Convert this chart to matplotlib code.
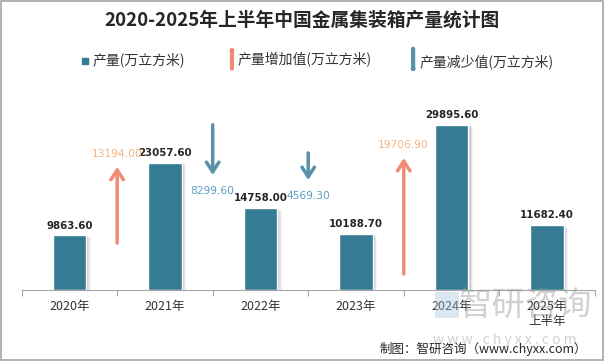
import matplotlib.pyplot as plt
from matplotlib.patches import Rectangle, FancyArrowPatch

plt.rcParams['font.family'] = ['Noto Sans CJK SC', 'DejaVu Sans']

years = ["2020年", "2021年", "2022年", "2023年", "2024年", "2025年\n上半年"]
output = [9863.60, 23057.60, 14758.00, 10188.70, 29895.60, 11682.40]

# change arrows between neighbouring years
changes = [13194.00, -8299.60, -4569.30, 19706.90]
change_pos = [0.5, 1.5, 2.5, 3.5]
arrow_tail = [8500, 29900, 24800, 2900]
arrow_tip = [22300, 20800, 19900, 23900]

bar_color = "#357b94"
up_color = "#f08c76"
up_text = "#f5b27f"
down_color = "#5a90a8"
down_text = "#5a9ec0"

fig = plt.figure(figsize=(6.04, 3.61), dpi=100)
fig.patch.set_facecolor("white")
fig.add_artist(Rectangle((0.001, 0.002), 0.997, 0.995, transform=fig.transFigure,
                         fill=False, edgecolor="#a6a6a6", lw=1.2))

ax = fig.add_axes([0.0358, 0.1967, 0.949, 0.551])
x = list(range(len(years)))
# soft shadow on the right side of each bar
for k, a in enumerate([0.35, 0.25, 0.16, 0.08]):
    off = 0.012 * (k + 1)
    ax.bar([i + off for i in x], [v - 150 * k for v in output], width=0.35,
           color="#8c8c8c", alpha=a, lw=0, zorder=1)
ax.bar(x, output, width=0.35, color=bar_color, edgecolor="white", lw=1, zorder=2)
for i, v in enumerate(output):
    ax.text(i, v + 900, f"{v:.2f}", ha="center", va="bottom", fontsize=7.4,
            fontweight="bold", color="#262626", family="DejaVu Sans")

for pos, ch, t0, t1 in zip(change_pos, changes, arrow_tail, arrow_tip):
    col = up_color if ch > 0 else down_color
    ax.annotate("", xy=(pos, t1), xytext=(pos, t0),
                arrowprops=dict(arrowstyle="->,head_length=0.7,head_width=0.45",
                                color=col, lw=2.5, shrinkA=0, shrinkB=0))
    if ch > 0:
        ax.text(pos, t1 + 1400, f"{abs(ch):.2f}", ha="center", va="bottom",
                fontsize=7.7, color=up_text, family="DejaVu Sans")
    else:
        ax.text(pos, t1 - 1900, f"{abs(ch):.2f}", ha="center", va="top",
                fontsize=7.7, color=down_text, family="DejaVu Sans")

ax.set_xlim(-0.5, 5.5)
ax.set_ylim(0, 36000)
ax.set_yticks([])
ax.set_xticks([i - 0.5 for i in range(len(years) + 1)])
ax.set_xticklabels([])
ax.set_xticks(x, minor=True)
ax.set_xticklabels(years, minor=True, fontsize=9, color="#333333", va="top")
ax.tick_params(axis="x", which="major", length=4, color="#a6a6a6", direction="out")
ax.tick_params(axis="x", which="minor", length=0, pad=7)
for s in ["top", "left", "right"]:
    ax.spines[s].set_visible(False)
ax.spines["bottom"].set_color("#a6a6a6")

fig.text(0.5, 0.943, "2020-2025年上半年中国金属集装箱产量统计图", ha="center", va="center",
         fontsize=13.5, fontweight="bold", color="#262626")

# legend
ly = 0.834
fig.add_artist(Rectangle((0.136, ly - 0.012), 0.01, 0.018, transform=fig.transFigure,
                         color=bar_color))
fig.text(0.154, ly, "产量(万立方米)", va="center", fontsize=10, color="#333333")
fig.add_artist(FancyArrowPatch(
    (0.384, 0.81), (0.384, 0.87), transform=fig.transFigure,
    arrowstyle="-|>,head_length=0.35,head_width=0.3", color=up_color, lw=3,
    shrinkA=0, shrinkB=0))
fig.text(0.394, ly, "产量增加值(万立方米)", va="center", fontsize=10, color="#333333")
fig.add_artist(FancyArrowPatch(
    (0.684, 0.865), (0.684, 0.80), transform=fig.transFigure,
    arrowstyle="-|>,head_length=0.35,head_width=0.3", color=down_color, lw=3,
    shrinkA=0, shrinkB=0))
fig.text(0.695, ly - 0.006, "产量减少值(万立方米)", va="center", fontsize=10, color="#333333")

# watermark
fig.text(0.87, 0.155, "智研咨询", ha="center", va="center", fontsize=24,
         color="#9a9a9a", alpha=0.45)
fig.add_artist(Rectangle((0.72, 0.12), 0.04, 0.07, transform=fig.transFigure,
                         color="#a9c6dc", alpha=0.4, lw=0))
fig.text(0.835, 0.058, "w w w . c h y x x . c o m", ha="center", va="center",
         fontsize=10, color="#9a9a9a", alpha=0.45)
fig.text(0.972, 0.033, "制图：智研咨询（www.chyxx.com）", ha="right", va="center",
         fontsize=9, color="#262626")

fig.savefig("out.png", dpi=100)
